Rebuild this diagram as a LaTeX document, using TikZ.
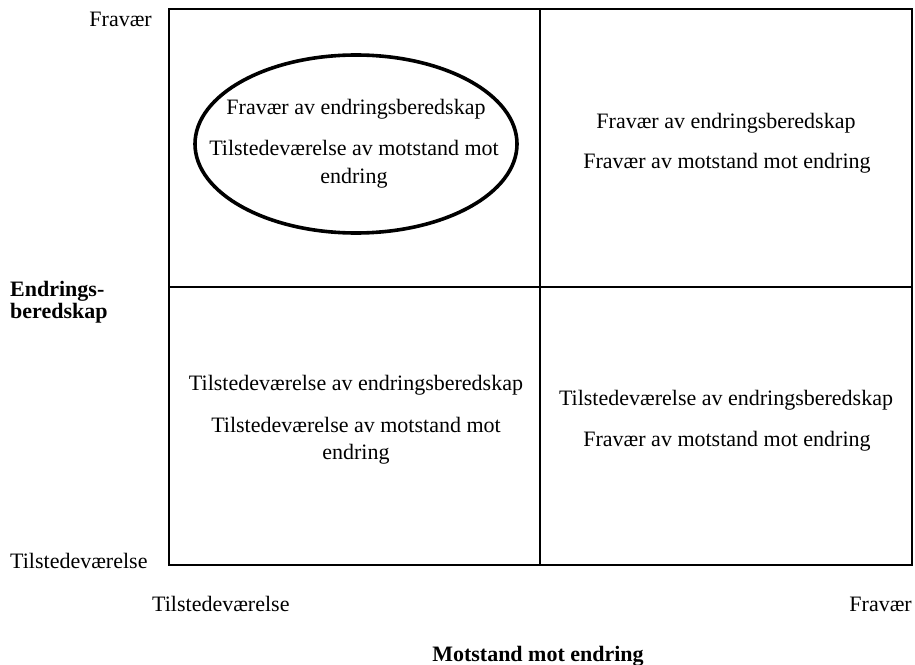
\documentclass[tikz,border=0pt]{standalone}
\usepackage{fontspec}
\setmainfont{Liberation Serif}
\begin{document}
\begin{tikzpicture}[x=1bp,y=-1bp,
  lbl/.style={inner sep=0pt, font=\fontsize{22bp}{26bp}\selectfont},
  blbl/.style={inner sep=0pt, font=\fontsize{22bp}{26bp}\selectfont\bfseries},
  gridline/.style={line width=1.6bp},
  ring/.style={line width=3.6bp}
]
\path[use as bounding box, fill=white] (0,0) rectangle (915,665);
% grid
\draw[gridline] (169,9) rectangle (912,565);
\draw[gridline] (540,9) -- (540,565);
\draw[gridline] (169,287) -- (912,287);
% ellipse
\draw[ring] (356,144) ellipse [x radius=161, y radius=89];
% top-left cell
\node[lbl, anchor=base] (tl1) at (356,115) {Fravær av endringsberedskap};
\node[lbl, anchor=base] (tl2) at (354,156) {Tilstedeværelse av motstand mot};
\node[lbl, anchor=base] (tl3) at (354,183) {endring};
% top-right cell
\node[lbl, anchor=base] (tr1) at (726,129) {Fravær av endringsberedskap};
\node[lbl, anchor=base] (tr2) at (727,169) {Fravær av motstand mot endring};
% bottom-left cell
\node[lbl, anchor=base] (bl1) at (356,390) {Tilstedeværelse av endringsberedskap};
\node[lbl, anchor=base] (bl2) at (356,432) {Tilstedeværelse av motstand mot};
\node[lbl, anchor=base] (bl3) at (356,459) {endring};
% bottom-right cell
\node[lbl, anchor=base] (br1) at (726,405) {Tilstedeværelse av endringsberedskap};
\node[lbl, anchor=base] (br2) at (727,446) {Fravær av motstand mot endring};
% axis labels
\node[lbl, anchor=base east] (yhi) at (152,27) {Fravær};
\node[blbl, anchor=base west] (yt1) at (10,296) {Endrings-};
\node[blbl, anchor=base west] (yt2) at (10,318) {beredskap};
\node[lbl, anchor=base west] (ylo) at (10,568) {Tilstedeværelse};
\node[lbl, anchor=base west] (xlo) at (152,611) {Tilstedeværelse};
\node[lbl, anchor=base east] (xhi) at (912,611) {Fravær};
\node[blbl, anchor=base] (xt) at (538,661) {Motstand mot endring};
\end{tikzpicture}
\end{document}
